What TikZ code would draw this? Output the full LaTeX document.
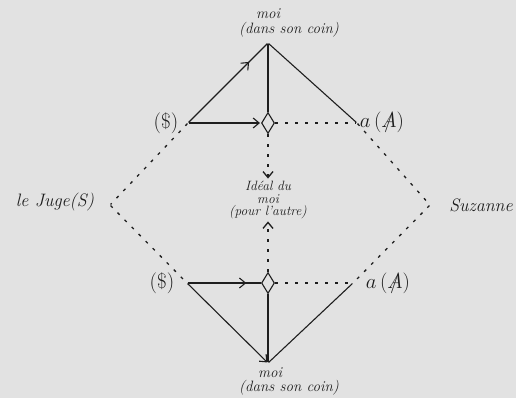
\documentclass[tikz,border=0pt]{standalone}
\usetikzlibrary{shapes.geometric,arrows.meta,decorations.markings}
\definecolor{bg}{RGB}{226,226,226}
\definecolor{ink}{RGB}{30,30,30}
\newcommand{\barA}{\ooalign{$A$\cr\hidewidth/\hidewidth}}
\begin{document}
\begin{tikzpicture}[x=1pt,y=-1pt, line width=1.1pt, draw=ink, text=ink,
  pt/.style={inner sep=0pt, minimum size=0pt},
  dia/.style={draw, diamond, minimum width=13pt, minimum height=21pt, inner sep=0pt, line width=1.1pt},
  dots/.style={dash pattern=on 3pt off 7pt, line width=1.3pt},
  tip/.style={-{Straight Barb[length=6pt,width=10pt]}},
  midarrow/.style={postaction={decorate}, decoration={markings, mark=at position #1 with {\arrow{Straight Barb[length=6pt,width=10pt]}}}},
  biglbl/.style={font=\fontsize{21}{23}\selectfont, inner sep=1pt},
  smalllbl/.style={font=\itshape\fontsize{15}{16}\selectfont, inner sep=1pt, align=center},
  personlbl/.style={font=\itshape\fontsize{18}{20}\selectfont, inner sep=1pt}]
\fill[bg] (0,0) rectangle (516,398);
\useasboundingbox (0,0) rectangle (516,398);
% points
\node[pt] (top) at (268,43) {};
\node[pt] (s1) at (188,123) {};
\node[dia] (d1) at (268,123) {};
\node[pt] (a1) at (357,123) {};
\node[pt] (juge) at (110,205) {};
\node[pt] (suz) at (430,205) {};
\node[pt] (s2) at (187,283) {};
\node[dia] (d2) at (268,283) {};
\node[pt] (a2) at (353,283) {};
\node[pt] (bot) at (268,363) {};
% labels
\node[smalllbl] (moiT) at (268,14) {moi};
\node[smalllbl] (coinT) at (289,30) {(dans son coin)};
\node[smalllbl] (moiB) at (270,373) {moi};
\node[smalllbl] (coinB) at (289,388) {(dans son coin)};
\node[biglbl] (sl1) at (166,123) {(\$)};
\node[biglbl] (sl2) at (162,283) {(\$)};
\node[biglbl] (al1) at (382,122) {$a\,(\barA)$};
\node[biglbl] (al2) at (388,283) {$a\,(\barA)$};
\node[personlbl] (jl) at (55,202) {le Juge(S)};
\node[personlbl] (sz) at (481,205) {Suzanne};
\node[font=\itshape\fontsize{13.5}{12.5}\selectfont, align=center, inner sep=0pt] (ideal) at (268,200) {Idéal du\\moi\\(pour l'autre)};
% upper triangle
\draw[midarrow=0.77] (s1) -- (top);
\draw[tip, shorten >=1pt] (s1) -- (d1.west);
\draw (top) -- (d1.north);
\draw (top) -- (a1);
\draw[dots] (d1.east) -- (a1);
% lower triangle
\draw[midarrow=0.8] (s2) -- (d2.west);
\draw[tip] (s2) -- (bot);
\draw (d2.south) -- (bot);
\draw (a2) -- (bot);
\draw[dots] (d2.east) -- (a2);
% dotted diamond
\draw[dots] (s1) -- (juge) -- (s2);
\draw[dots] (a1) -- (suz) -- (a2);
% to ideal
\draw[dots, tip, shorten >=2pt] (d1.south) -- (ideal.north);
\draw[dots, tip, shorten >=2pt] (d2.north) -- (ideal.south);
\end{tikzpicture}
\end{document}
